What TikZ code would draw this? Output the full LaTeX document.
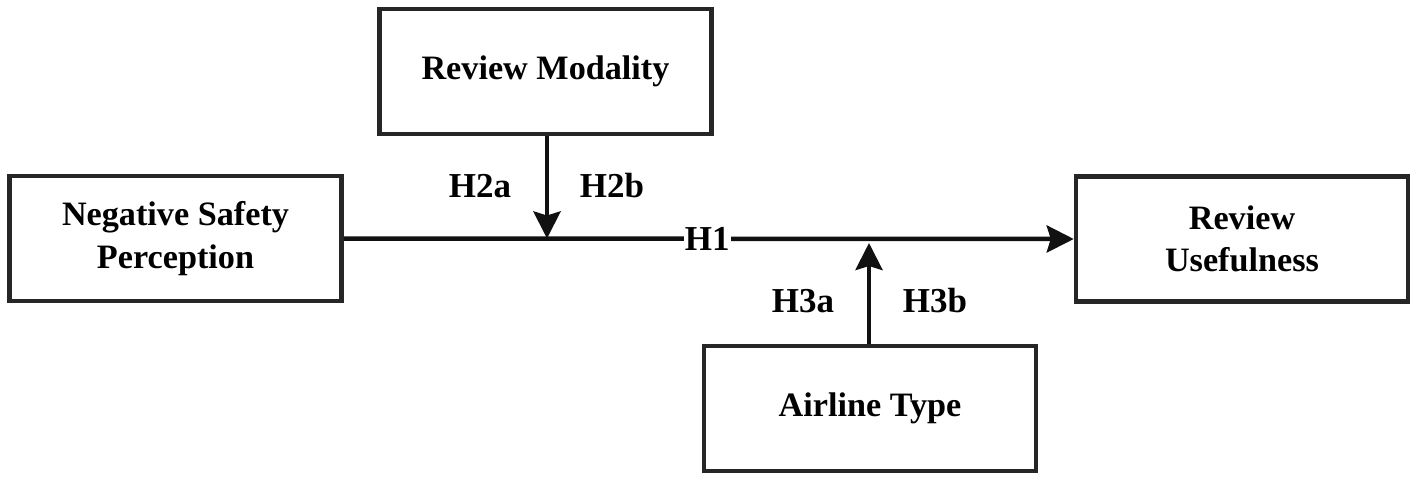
\documentclass[tikz,border=0pt]{standalone}
\usepackage{fontspec}
\setmainfont{Liberation Serif}
\usetikzlibrary{arrows.meta}
\definecolor{boxline}{HTML}{262626}
\definecolor{arrline}{HTML}{111111}
\begin{document}
\begin{tikzpicture}[x=1pt,y=-1pt,
  box/.style={draw=boxline,line width=4.5pt,fill=white,minimum width=332pt,minimum height=125pt,inner sep=0pt,align=center,font=\fontsize{34.2}{42.5}\selectfont\bfseries},
  lab/.style={font=\fontsize{35}{40}\selectfont\bfseries,inner sep=1pt},
  conn/.style={draw=arrline,line width=4.5pt,-{Stealth[length=27pt,width=27pt,inset=4pt]}}]
\useasboundingbox (0,0) rectangle (1417,482);
\node[box] (rm) at (545.5,71.5) {Review Modality};
\node[box] (nsp) at (175.5,238.5) {Negative Safety\\Perception};
\node[box] (ru) at (1242,239) {Review\\Usefulness};
\node[box] (at) at (870,408.5) {Airline Type};
\coordinate (m2) at (547,238.5);
\coordinate (m3) at (869,243);
\draw[conn] (nsp.east) -- (ru.west) node[pos=0.498,fill=white,lab] (h1) {H1};
\draw[conn] (rm.south -| m2) -- (m2);
\draw[conn] (at.north -| m3) -- (m3);
\node[lab] (h2a) at (480,186) {H2a};
\node[lab] (h2b) at (612,186) {H2b};
\node[lab] (h3a) at (803,301) {H3a};
\node[lab] (h3b) at (935,301) {H3b};
\end{tikzpicture}
\end{document}
